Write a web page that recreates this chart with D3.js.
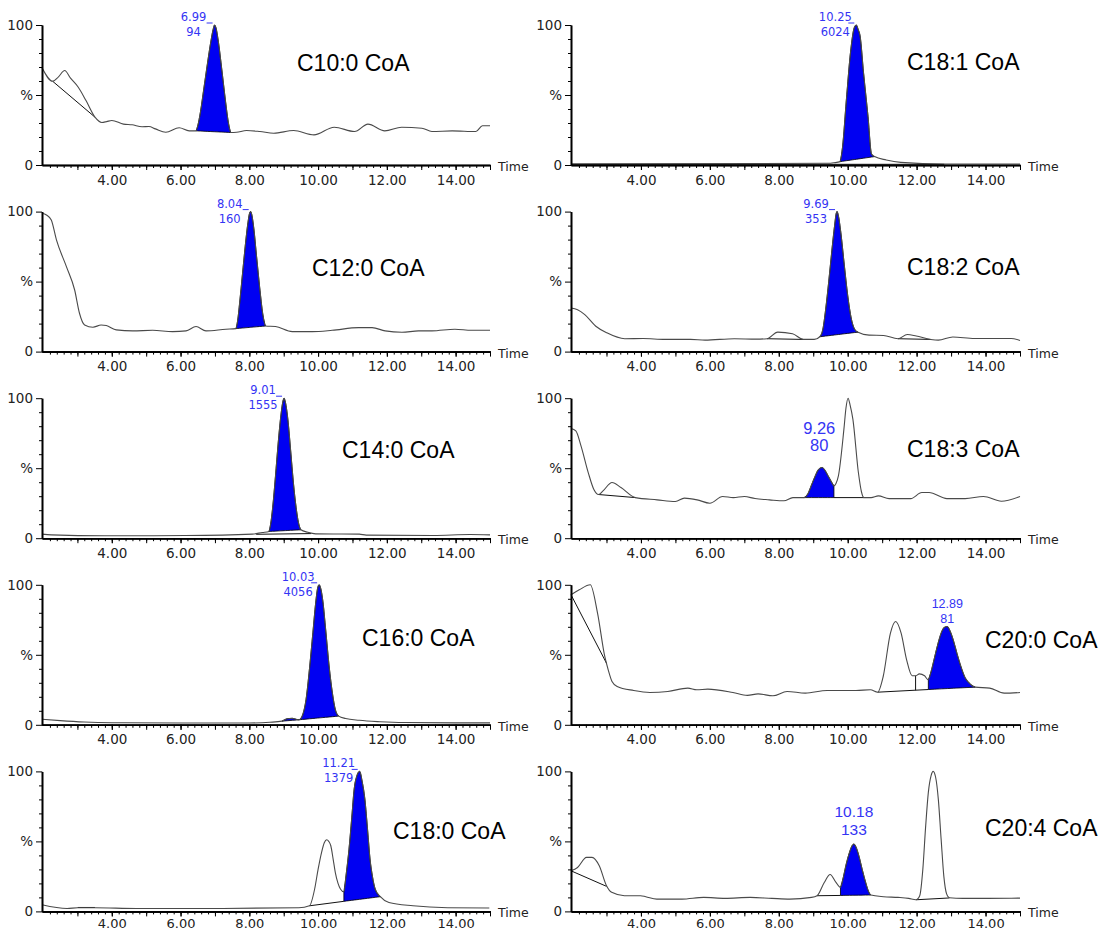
<!DOCTYPE html>
<html>
<head>
<meta charset="utf-8">
<script src="https://cdnjs.cloudflare.com/ajax/libs/d3/7.8.5/d3.min.js"></script>
<style>
  body { margin: 0; background: #fff; }
</style>
</head>
<body>
<svg id="chart" width="1107" height="932"></svg>
<script>
// ---- data: [time (min), intensity (%)] ----
const compounds = ["C10:0 CoA", "C12:0 CoA", "C14:0 CoA", "C16:0 CoA", "C18:0 CoA",
                   "C18:1 CoA", "C18:2 CoA", "C18:3 CoA", "C20:0 CoA", "C20:4 CoA"];
const peakRT = ["6.99", "8.04", "9.01", "10.03", "11.21", "10.25", "9.69", "9.26", "12.89", "10.18"];
const peakArea = ["94", "160", "1555", "4056", "1379", "6024", "353", "80", "81", "133"];
const xTickLabels = [4, 6, 8, 10, 12, 14];
const yTickValues = [0, 50, 100];
const yTickText = ["0", "%", "100"];

const c10Trace = [[1.97,69.4],[2.28,59.8],[2.45,63],[2.63,67.5],[2.8,62],[3.02,55.7],[3.25,46],[3.51,34.2],[3.71,30.4],[3.85,31],[4.0,31.8],[4.34,29.2],[4.59,28.7],[4.88,27.3],[5.08,27.5],[5.27,25.8],[5.57,23.4],[5.96,26.6],[6.25,24.4],[6.45,24.4],[6.50,28],[6.58,38],[6.68,55],[6.78,72],[6.88,88],[6.95,97],[6.99,100],[7.03,98],[7.10,88],[7.20,68],[7.30,47],[7.40,29],[7.46,23.2],[7.63,23.4],[7.92,24.6],[8.31,23.9],[8.71,22.7],[9.29,24.6],[9.88,21.5],[10.47,27.0],[11.06,23.9],[11.45,29.2],[11.94,24.4],[12.43,27.0],[13.02,26.3],[13.31,23.9],[13.90,24.4],[14.59,23.9],[14.78,28.0],[15.0,28.0]];
const c10Fill = [[6.45, 7.46, 24.4, 23.2]];
const c10Base = [[[2.28,59.8],[3.51,34.2]]];

const c12Trace = [[1.97,98.8],[2.10,97.6],[2.24,94],[2.39,79.8],[2.68,60.7],[2.92,44],[3.06,27.4],[3.21,19],[3.45,17.4],[3.69,19],[3.84,18.6],[4.13,15.5],[4.61,14.8],[5.19,15.2],[5.77,14.3],[6.16,14.8],[6.45,17.9],[6.74,14.8],[7.32,16],[7.61,16.4],[7.66,22],[7.72,35],[7.80,55],[7.88,75],[7.96,92],[8.01,99],[8.04,100],[8.07,98],[8.13,88],[8.21,68],[8.30,46],[8.39,27],[8.47,18.3],[8.76,17.9],[9.25,14.3],[9.83,14.3],[10.41,15.2],[11.18,17.1],[11.57,17.1],[11.95,14.8],[12.44,13.8],[12.92,14.8],[13.31,14.8],[13.98,16],[14.46,15.2],[15.0,15.2]];
const c12Fill = [[7.61, 8.47, 16.4, 18.3]];
const c12Base = [];

const c14Trace = [[1.97,2.9],[2.24,2.4],[3.80,1.7],[6.14,1.9],[8.09,2.9],[8.38,4.1],[8.57,4.8],[8.62,10],[8.68,22],[8.76,44],[8.84,68],[8.92,88],[8.98,98],[9.01,100],[9.05,97],[9.12,85],[9.20,63],[9.28,40],[9.36,22],[9.43,11],[9.50,6.0],[9.70,4.2],[9.93,3.1],[11.20,2.9],[11.40,2.2],[13.35,1.9],[14.42,2.6],[15.0,2.4]];
const c14Fill = [[8.57, 9.50, 4.8, 6.0]];
const c14Base = [[[8.2,2.8],[9.8,3.3]]];

const c16Trace = [[1.97,4.0],[2.5,3.0],[3.2,2.0],[4.0,1.5],[6.0,1.3],[8.0,1.3],[8.6,1.8],[8.95,2.6],[9.1,4.3],[9.25,4.6],[9.38,3.8],[9.45,3.6],[9.55,7],[9.65,18],[9.75,40],[9.85,66],[9.93,87],[9.99,98],[10.03,100],[10.07,98],[10.14,88],[10.22,68],[10.32,42],[10.42,22],[10.50,11],[10.60,6.2],[10.80,4.5],[11.2,3.2],[11.8,2.2],[12.5,1.6],[14.0,1.4],[15.0,1.4]];
const c16Fill = [[8.95, 9.45, 2.6, 3.6], [9.45, 10.60, 3.6, 6.2]];
const c16Base = [];

const c180Trace = [[1.97,4.8],[2.70,2.1],[3.01,2.6],[3.51,2.6],[4.72,2.1],[6.73,2.1],[9.44,2.6],[9.75,4.0],[9.90,16],[10.0,30],[10.10,42],[10.18,49],[10.25,51.2],[10.31,50],[10.37,46.9],[10.44,37],[10.50,27.9],[10.58,20],[10.65,16],[10.75,14],[10.82,27],[10.90,44.5],[10.98,67],[11.05,87.4],[11.13,97],[11.21,100],[11.28,93],[11.36,80.2],[11.44,58],[11.51,37.4],[11.58,25],[11.66,16],[11.81,10.5],[12.06,6.4],[12.76,4.0],[13.77,2.6],[14.98,2.4]];
const c180Fill = [[10.75, 11.81, 7.2, 10.5]];
const c180Base = [[[9.75,4.0],[10.75,7.2]], [[3.01,2.8],[3.51,2.8]]];

const c181Trace = [[1.97,0.8],[9.43,1.2],[9.60,1.6],[9.78,2.4],[9.85,12.7],[9.96,46],[10.08,80],[10.19,98],[10.25,100],[10.30,97],[10.36,92],[10.46,65.6],[10.59,34.4],[10.69,7.9],[10.78,6],[11.12,3.6],[11.54,1.9],[12.80,0.7],[15.0,0.7]];
const c181Fill = [[9.78, 10.78, 2.4, 6.0]];
const c181Base = [[[1.97,0.4],[9.6,0.5]], [[9.6,0.5],[12.8,0.5]]];

const c182Trace = [[1.97,31.1],[2.16,29.9],[2.37,26.4],[2.69,18.1],[3.01,13.4],[3.53,9.2],[4.06,9.4],[4.70,8.7],[5.44,8.7],[5.86,8.2],[6.71,9.2],[7.34,8.9],[7.66,9.2],[7.97,13.9],[8.40,12.7],[8.71,8.7],[9.03,8.7],[9.19,10.6],[9.28,16],[9.36,30],[9.45,50],[9.54,72],[9.62,90],[9.67,99],[9.69,100],[9.73,97],[9.80,85],[9.90,62],[10.0,40],[10.10,24],[10.20,16],[10.30,13.9],[10.62,11.8],[11.04,11.5],[11.46,9.2],[11.73,12.2],[11.99,11.1],[12.41,8.7],[12.63,8.2],[13.05,10.4],[13.68,9.4],[14.32,9.4],[14.74,9.4],[15.0,8.0]];
const c182Fill = [[9.19, 10.30, 10.6, 13.9]];
const c182Base = [[[7.66,9.2],[8.71,8.7]], [[11.46,9.2],[12.41,8.7]]];

const c183Trace = [[1.97,78.3],[2.11,76.7],[2.26,66],[2.47,46.9],[2.63,35],[2.77,31.2],[2.90,33.8],[3.16,39.8],[3.42,36.2],[3.84,29],[4.47,27.4],[5.0,26.2],[5.26,28.6],[5.63,27.4],[6.0,25],[6.37,29.8],[6.68,29],[7.0,29.8],[7.31,28.3],[7.73,27.4],[8.15,26.7],[8.41,29],[8.73,29],[8.85,32],[8.95,38],[9.05,44],[9.15,49],[9.26,50.5],[9.34,48.5],[9.42,45],[9.51,41],[9.60,37.4],[9.66,39],[9.73,44.5],[9.89,77.9],[9.95,93],[10.01,100],[10.07,95],[10.15,85],[10.31,46.9],[10.40,33],[10.47,29],[10.68,29],[10.89,30.2],[11.20,28.3],[11.62,28.3],[11.83,28.3],[12.15,32.6],[12.36,32.6],[12.88,28.3],[13.41,28.3],[13.94,29.8],[14.46,26.4],[15.0,29.8]];
const c183Fill = [[8.73, 9.60, 29, 29]];
const c183Base = [[[2.77,31.2],[3.84,29]], [[9.60,29],[10.47,29]]];

const c200Trace = [[1.97,92.9],[2.21,96.4],[2.53,100],[2.74,79.8],[2.95,48.8],[3.05,39.3],[3.16,31],[3.31,27.4],[3.79,24.5],[4.26,23.1],[4.78,23.8],[5.36,26.2],[5.62,25],[5.94,25.5],[6.67,23.1],[7.09,21],[7.40,22.1],[7.83,20.7],[8.24,23.8],[8.77,22.6],[9.40,24.5],[10.24,24.5],[10.66,25],[10.87,23.3],[11.03,34.5],[11.24,65.5],[11.39,73.8],[11.55,65.5],[11.71,46.4],[11.87,35],[11.97,35],[12.08,36.4],[12.23,35],[12.34,32.1],[12.42,38],[12.52,48],[12.62,58],[12.72,66],[12.80,69.5],[12.89,70.2],[12.97,67],[13.07,60],[13.17,51],[13.28,42],[13.40,34],[13.52,30],[13.70,26.9],[14.12,26.2],[14.54,22.6],[15.0,23.1]];
const c200Fill = [[12.34, 13.70, 25.2, 26.9]];
const c200Base = [[[1.97,92.9],[3.0,44]], [[10.87,23.3],[12.34,25.2]], [[11.97,35],[11.97,24.7]]];

const c204Trace = [[1.97,29],[2.16,31.4],[2.42,38.6],[2.58,38.6],[2.79,32.6],[3.0,18.3],[3.15,13.6],[3.52,11.2],[3.99,11.2],[4.14,10.5],[4.46,8.8],[5.19,8.8],[5.82,10],[6.44,9.3],[7.17,10],[7.80,9.3],[8.32,8.8],[8.95,10],[9.11,11.2],[9.32,20.7],[9.49,26.4],[9.66,20.7],[9.79,17.1],[9.87,24],[9.95,33],[10.05,42],[10.13,47],[10.18,48.1],[10.24,46],[10.32,40],[10.42,30],[10.52,20.7],[10.60,14.5],[10.67,11.7],[11.04,10.5],[11.46,10],[11.77,9.3],[11.98,8.3],[12.09,11.2],[12.18,30],[12.26,60],[12.34,85],[12.42,97],[12.48,100],[12.55,96],[12.63,80],[12.71,52],[12.79,25],[12.87,12.5],[12.95,9.8],[13.34,9.3],[14.07,9.3],[15.0,9.5]];
const c204Fill = [[9.79, 10.67, 11.4, 11.7]];
const c204Base = [[[1.97,29],[3.0,17.9]], [[9.11,11.2],[9.79,11.4]], [[11.98,8.3],[12.95,9.6]]];

const traces = [c10Trace, c12Trace, c14Trace, c16Trace, c180Trace, c181Trace, c182Trace, c183Trace, c200Trace, c204Trace];
const fills = [c10Fill, c12Fill, c14Fill, c16Fill, c180Fill, c181Fill, c182Fill, c183Fill, c200Fill, c204Fill];
const bases = [c10Base, c12Base, c14Base, c16Base, c180Base, c181Base, c182Base, c183Base, c200Base, c204Base];

// ---- layout ----
const colX = [42, 571];
const colW = [448, 449];
const plotH = 140;
const rowTop = r => 25 + r * 186.6;
const xDomain = [1.97, 15.0];
const blue = "#0000f2";
const labelBlue = "#3434f4";

// title x, title baseline (relative to top), peak-label style
const layout = [
  { col: 0, row: 0, tx: 297, ty: 46, lab: "tag" },
  { col: 0, row: 1, tx: 312, ty: 64, lab: "tag" },
  { col: 0, row: 2, tx: 342, ty: 60, lab: "tag" },
  { col: 0, row: 3, tx: 362, ty: 61, lab: "tag" },
  { col: 0, row: 4, tx: 393, ty: 68, lab: "tag" },
  { col: 1, row: 0, tx: 907, ty: 45, lab: "tag" },
  { col: 1, row: 1, tx: 907, ty: 63, lab: "tag" },
  { col: 1, row: 2, tx: 907, ty: 59, lab: { size: 16.5, d1: -34, d2: -17, dx: -3 } },
  { col: 1, row: 3, tx: 985, ty: 63, lab: { size: 12.5, d1: -19, d2: -4, dx: 0 } },
  { col: 1, row: 4, tx: 985, ty: 65, lab: { size: 15.5, d1: -27, d2: -9, dx: 0 } }
];

const svg = d3.select("#chart");
svg.append("rect").attr("width", 1107).attr("height", 932).attr("fill", "#fff");

const minorX = d3.range(11, 76).map(i => +(i * 0.2).toFixed(1)).filter(v => v <= 15);
const majorX = d3.range(3, 16);
const minorY = d3.range(10, 100, 10).filter(v => v !== 50);

traces.forEach((trace, i) => {
  const L = layout[i];
  const x0 = colX[L.col], top = rowTop(L.row);
  const x = d3.scaleLinear().domain(xDomain).range([x0, x0 + colW[L.col]]);
  const y = d3.scaleLinear().domain([0, 100]).range([top + plotH, top]);
  const g = svg.append("g");

  // integrated peaks
  fills[i].forEach(([t0, t1, b0, b1]) => {
    const seg = trace.filter(d => d[0] >= t0 - 1e-9 && d[0] <= t1 + 1e-9);
    const base = t => b0 + (t - t0) / (t1 - t0) * (b1 - b0);
    g.append("path").datum(seg)
      .attr("d", d3.area()
        .x(d => x(d[0])).y0(d => y(base(d[0]))).y1(d => y(d[1]))
        .curve(d3.curveMonotoneX))
      .attr("fill", blue)
      .attr("stroke", "#000")
      .attr("stroke-width", 0.8);
  });

  // baselines
  const seg = d3.line().x(d => x(d[0])).y(d => y(d[1]));
  bases[i].forEach(b => {
    g.append("path").attr("d", seg(b))
      .attr("fill", "none").attr("stroke", "#111").attr("stroke-width", 1);
  });

  // trace
  g.append("path").datum(trace)
    .attr("d", d3.line().x(d => x(d[0])).y(d => y(d[1])).curve(d3.curveMonotoneX))
    .attr("fill", "none")
    .attr("stroke", "#4a4a4a")
    .attr("stroke-width", 1.1);

  // x axis
  const xa = g.append("g").attr("transform", `translate(0,${top + plotH})`);
  xa.append("g").call(d3.axisBottom(x).tickValues(minorX).tickSize(3).tickFormat("").tickSizeOuter(0));
  xa.append("g").call(d3.axisBottom(x).tickValues(majorX).tickSize(5).tickFormat("").tickSizeOuter(0));
  xa.append("g").call(d3.axisBottom(x).tickValues(xTickLabels).tickSize(5)
    .tickPadding(L.row < 4 ? 5 : 2)
    .tickFormat(d3.format(".2f")).tickSizeOuter(0));
  xa.selectAll("path.domain").attr("stroke", "#000").attr("stroke-width", 1.6);
  xa.selectAll("line").attr("stroke", "#000");
  xa.selectAll("text").attr("font-family", "DejaVu Sans")
    .attr("font-size", L.row < 4 ? 13.5 : 13).attr("fill", "#222");
  g.append("text")
    .attr("x", x0 + colW[L.col] + 8).attr("y", top + plotH + 6)
    .attr("font-family", "DejaVu Sans").attr("font-size", 12.5).attr("fill", "#222")
    .text("Time");

  // y axis
  const ya = g.append("g").attr("transform", `translate(${x0},0)`);
  ya.append("g").call(d3.axisLeft(y).tickValues(minorY).tickSize(3).tickFormat("").tickSizeOuter(0));
  ya.append("g").call(d3.axisLeft(y).tickValues(yTickValues).tickSize(6).tickPadding(3)
    .tickFormat((d, k) => yTickText[k]).tickSizeOuter(0));
  ya.selectAll("path.domain").attr("stroke", "#000").attr("stroke-width", 1.6);
  ya.selectAll("line").attr("stroke", "#000");
  ya.selectAll("text").attr("font-family", "DejaVu Sans").attr("font-size", 13.5).attr("fill", "#222");

  // compound title
  g.append("text")
    .attr("x", L.tx).attr("y", top + L.ty)
    .attr("font-family", "Liberation Sans, Arial, sans-serif")
    .attr("font-size", 23).attr("fill", "#000")
    .text(compounds[i]);

  // peak label
  const rt = +peakRT[i];
  const f = fills[i][fills[i].length - 1];
  const apex = d3.max(trace.filter(d => d[0] >= f[0] && d[0] <= f[1]), d => d[1]);
  const ax = x(rt), ay = y(apex);
  if (L.lab === "tag") {
    const cx = ax - 21;
    g.append("text").attr("x", cx).attr("y", top - 4).attr("text-anchor", "middle")
      .attr("font-family", "DejaVu Sans").attr("font-size", 11.5).attr("fill", labelBlue)
      .text(peakRT[i]);
    g.append("text").attr("x", cx).attr("y", top + 11).attr("text-anchor", "middle")
      .attr("font-family", "DejaVu Sans").attr("font-size", 11.5).attr("fill", labelBlue)
      .text(peakArea[i]);
    g.append("line").attr("x1", ax - 8).attr("x2", ax - 2)
      .attr("y1", top - 2).attr("y2", top - 2)
      .attr("stroke", labelBlue).attr("stroke-width", 1);
  } else {
    const s = L.lab;
    [[peakRT[i], s.d1], [peakArea[i], s.d2]].forEach(([t, dy]) => {
      g.append("text").attr("x", ax + s.dx).attr("y", ay + dy).attr("text-anchor", "middle")
        .attr("font-family", "Liberation Sans, Arial, sans-serif")
        .attr("font-size", s.size).attr("fill", labelBlue)
        .text(t);
    });
  }
});
</script>
</body>
</html>
